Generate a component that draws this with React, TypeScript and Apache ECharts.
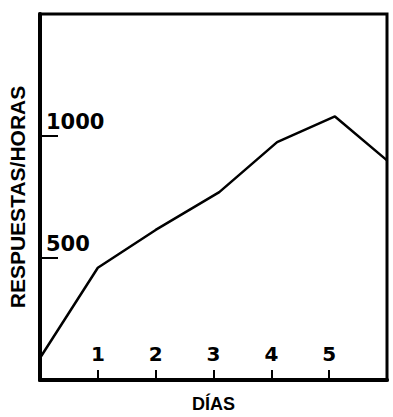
import React, { useEffect, useRef } from "react";
import * as echarts from "echarts";

const days: number[] = [0, 1, 2, 3.1, 4.1, 5.1, 6];
const responses: number[] = [90, 460, 615, 770, 975, 1080, 900];
const yTickLabels: number[] = [500, 1000];
const xTickLabels: number[] = [1, 2, 3, 4, 5];

export default function App() {
  const ref = useRef<HTMLDivElement>(null);
  useEffect(() => {
    if (!ref.current) return;
    const chart = echarts.init(ref.current, null, { renderer: "svg" });
    const font = "'DejaVu Sans', 'Liberation Sans', Arial, sans-serif";
    const nameFont = "'Liberation Sans', Arial, sans-serif";
    chart.setOption({
      animation: false,
      backgroundColor: "#ffffff",
      grid: {
        left: 40,
        right: 6,
        top: 14,
        bottom: 37,
        outerBoundsMode: "none",
        containLabel: false,
        show: true,
        borderColor: "#000",
        borderWidth: 3,
        backgroundColor: "transparent",
      },
      xAxis: {
        type: "value",
        min: 0,
        max: 6,
        interval: 1,
        name: "DÍAS",
        nameLocation: "middle",
        nameGap: 15,
        nameTextStyle: { fontFamily: nameFont, fontSize: 18, color: "#000", fontWeight: "bold" },
        axisLine: { show: true, lineStyle: { color: "#000", width: 4 } },
        axisTick: { show: true, inside: true, length: 10, lineStyle: { color: "#000", width: 2 } },
        axisLabel: {
          inside: true,
          margin: 16,
          fontFamily: font,
          fontSize: 20,
          fontWeight: "bold",
          color: "#000",
          formatter: (v: number) => (xTickLabels.indexOf(v) >= 0 ? String(v) : ""),
        },
        splitLine: { show: false },
      },
      yAxis: {
        type: "value",
        min: 0,
        max: 1500,
        interval: 500,
        name: "RESPUESTAS/HORAS",
        nameLocation: "middle",
        nameGap: 12,
        nameTextStyle: { fontFamily: nameFont, fontSize: 21, color: "#000", fontWeight: "bold" },
        axisLine: { show: true, lineStyle: { color: "#000", width: 4 } },
        axisTick: { show: true, inside: true, length: 18, lineStyle: { color: "#000", width: 2 } },
        axisLabel: {
          inside: true,
          margin: 6,
          fontFamily: font,
          fontSize: 21,
          fontWeight: "bold",
          color: "#000",
          verticalAlign: "bottom",
          padding: [0, 0, 4, 0],
          formatter: (v: number) => (yTickLabels.indexOf(v) >= 0 ? String(v) : ""),
        },
        splitLine: { show: false },
      },
      series: [
        {
          type: "line",
          data: days.map((d, i) => [d, responses[i]]),
          symbol: "none",
          lineStyle: { color: "#000", width: 2.5 },
          clip: true,
        },
      ],
    });
    return () => chart.dispose();
  }, []);
  return <div ref={ref} style={{ width: 393, height: 417, position: "absolute", left: 0, top: 0 }} />;
}
